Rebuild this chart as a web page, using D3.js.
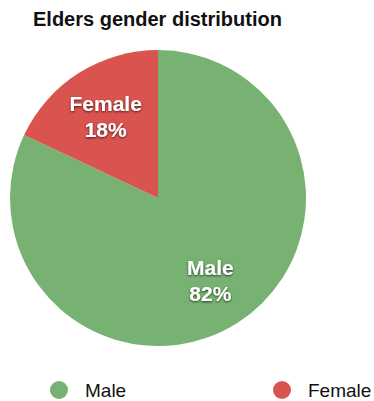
<!DOCTYPE html>
<html>
<head>
<meta charset="utf-8">
<script src="https://cdn.jsdelivr.net/npm/d3@7"></script>
<style>
  html, body { margin: 0; padding: 0; background: #fff; }
  svg { display: block; font-family: "Liberation Sans", Arial, sans-serif; }
</style>
</head>
<body>
<svg id="chart" width="374" height="401"></svg>
<script>
// Gender split of the elders
const categories = ["Male", "Female"];
const values = [82, 18];
const colors = ["#77b272", "#d9534f"];
const title = "Elders gender distribution";

const svg = d3.select("#chart");
const cx = 158, cy = 198, radius = 148;

// Soft dark shadow under slice labels
const defs = svg.append("defs");
const f = defs.append("filter").attr("id", "shadow")
  .attr("x", "-20%").attr("y", "-20%").attr("width", "140%").attr("height", "140%");
f.append("feDropShadow").attr("dx", 0).attr("dy", 1).attr("stdDeviation", 1)
  .attr("flood-color", "#000").attr("flood-opacity", 0.7);

svg.append("text")
  .attr("x", 33).attr("y", 26)
  .attr("font-size", 20).attr("font-weight", "bold").attr("fill", "#111")
  .text(title);

const data = categories.map((c, i) => ({ name: c, value: values[i], color: colors[i] }));
const pie = d3.pie().sort(null).value(d => d.value);
const arcs = pie(data);
const arc = d3.arc().innerRadius(0).outerRadius(radius);
const labelArc = d3.arc().innerRadius(radius * 0.66).outerRadius(radius * 0.66);

const g = svg.append("g").attr("transform", `translate(${cx},${cy})`);
g.selectAll("path").data(arcs).join("path")
  .attr("d", arc).attr("fill", d => d.data.color);

const total = d3.sum(values);
const lab = g.selectAll("g.lab").data(arcs).join("g").attr("class", "lab")
  .attr("transform", d => `translate(${labelArc.centroid(d)})`)
  .attr("filter", "url(#shadow)");
lab.append("text")
  .attr("text-anchor", "middle").attr("y", -5)
  .attr("font-size", 21).attr("font-weight", "bold").attr("fill", "#fff")
  .text(d => d.data.name);
lab.append("text")
  .attr("text-anchor", "middle").attr("y", 21)
  .attr("font-size", 21).attr("font-weight", "bold").attr("fill", "#fff")
  .text(d => Math.round(d.data.value / total * 100) + "%");

// Legend along the bottom
const legendX = d3.scalePoint().domain(categories).range([59, 282]);
const leg = svg.selectAll("g.leg").data(data).join("g").attr("class", "leg")
  .attr("transform", d => `translate(${legendX(d.name)},390)`);
leg.append("circle").attr("r", 9).attr("fill", d => d.color);
leg.append("text").attr("x", 26).attr("y", 7)
  .attr("font-size", 19).attr("fill", "#111")
  .text(d => d.name);
</script>
</body>
</html>
